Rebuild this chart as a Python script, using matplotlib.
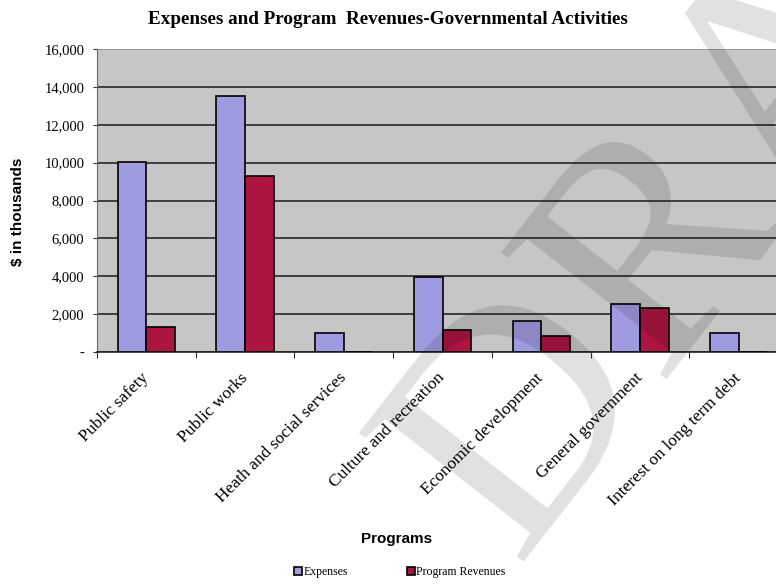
import numpy as np
import matplotlib.pyplot as plt

# Data ($ in thousands)
programs = ["Public safety", "Public works", "Heath and social services",
            "Culture and recreation", "Economic development",
            "General government", "Interest on long term debt"]
expenses = [10050, 13500, 1000, 3950, 1650, 2550, 1000]
revenues = [1300, 9300, 0, 1150, 850, 2300, 0]
yticks = [0, 2000, 4000, 6000, 8000, 10000, 12000, 14000, 16000]
ytick_labels = ["-", "2,000", "4,000", "6,000", "8,000", "10,000", "12,000", "14,000", "16,000"]

SERIF = "Liberation Serif"
SANS = "Liberation Sans"

fig = plt.figure(figsize=(7.76, 5.86), dpi=100)
# plot area runs off the right edge in the original
ax = fig.add_axes([97/776, 1-352/586, 691/776, 303/586])
ax.set_facecolor("#c6c6c6")

x = np.arange(len(programs))
w = 0.29
ax.bar(x - w/2, expenses, w, color="#9e9be0", edgecolor="black", linewidth=1.2,
       label="Expenses", zorder=3)
ax.bar(x + w/2, revenues, w, color="#ab1540", edgecolor="black", linewidth=1.2,
       label="Program Revenues", zorder=3)

ax.set_xlim(-0.5, len(programs) - 0.5)
ax.set_ylim(0, 16000)
ax.set_yticks(yticks)
ax.set_yticklabels(ytick_labels, family=SERIF, fontsize=10.5)
ax.yaxis.grid(True, color="#1a1a1a", linewidth=1.1, zorder=1)
ax.get_ygridlines()[-1].set_color("#8a8a8a")
ax.set_axisbelow(True)

ax.set_xticks(x)
ax.set_xticklabels(programs, rotation=45, ha="right", va="center",
                   rotation_mode="anchor", family=SERIF, fontsize=12.5)
ax.tick_params(axis="x", which="major", length=0, pad=17)
ax.set_xticks(np.arange(-0.5, len(programs)), minor=True)
ax.tick_params(axis="x", which="minor", length=4, width=0.8, color="#333333")
ax.tick_params(axis="y", length=3, width=0.8, color="#333333", pad=6)

for side in ["top", "right"]:
    ax.spines[side].set_visible(False)
ax.spines["left"].set_color("#666666")
ax.spines["bottom"].set_color("#222222")
ax.spines["bottom"].set_linewidth(1.2)

fig.text(0.5, 1 - 20/586, "Expenses and Program  Revenues-Governmental Activities",
         family=SERIF, fontweight="bold", fontsize=13.8, ha="center", va="center")
ax.set_ylabel("$ in thousands", family=SANS, fontweight="bold", fontsize=11)
ax.yaxis.set_label_coords(-0.104, 0.462)
ax.set_xlabel("Programs", family=SANS, fontweight="bold", fontsize=11)
ax.xaxis.set_label_coords(0.433, -0.593)

fig.legend(loc="center", bbox_to_anchor=(0.515, 0.024), ncol=2, frameon=False,
           prop={"family": SERIF, "size": 8.5}, handlelength=0.7, handleheight=0.7,
           handletextpad=0.1, columnspacing=5)

# faint watermark across the page
fig.text(0.44, -0.03, "DRAFT", rotation=52, fontsize=230, family=SERIF,
         color="black", alpha=0.12, ha="left", va="bottom", zorder=10)

fig.savefig("out.png", dpi=100)
